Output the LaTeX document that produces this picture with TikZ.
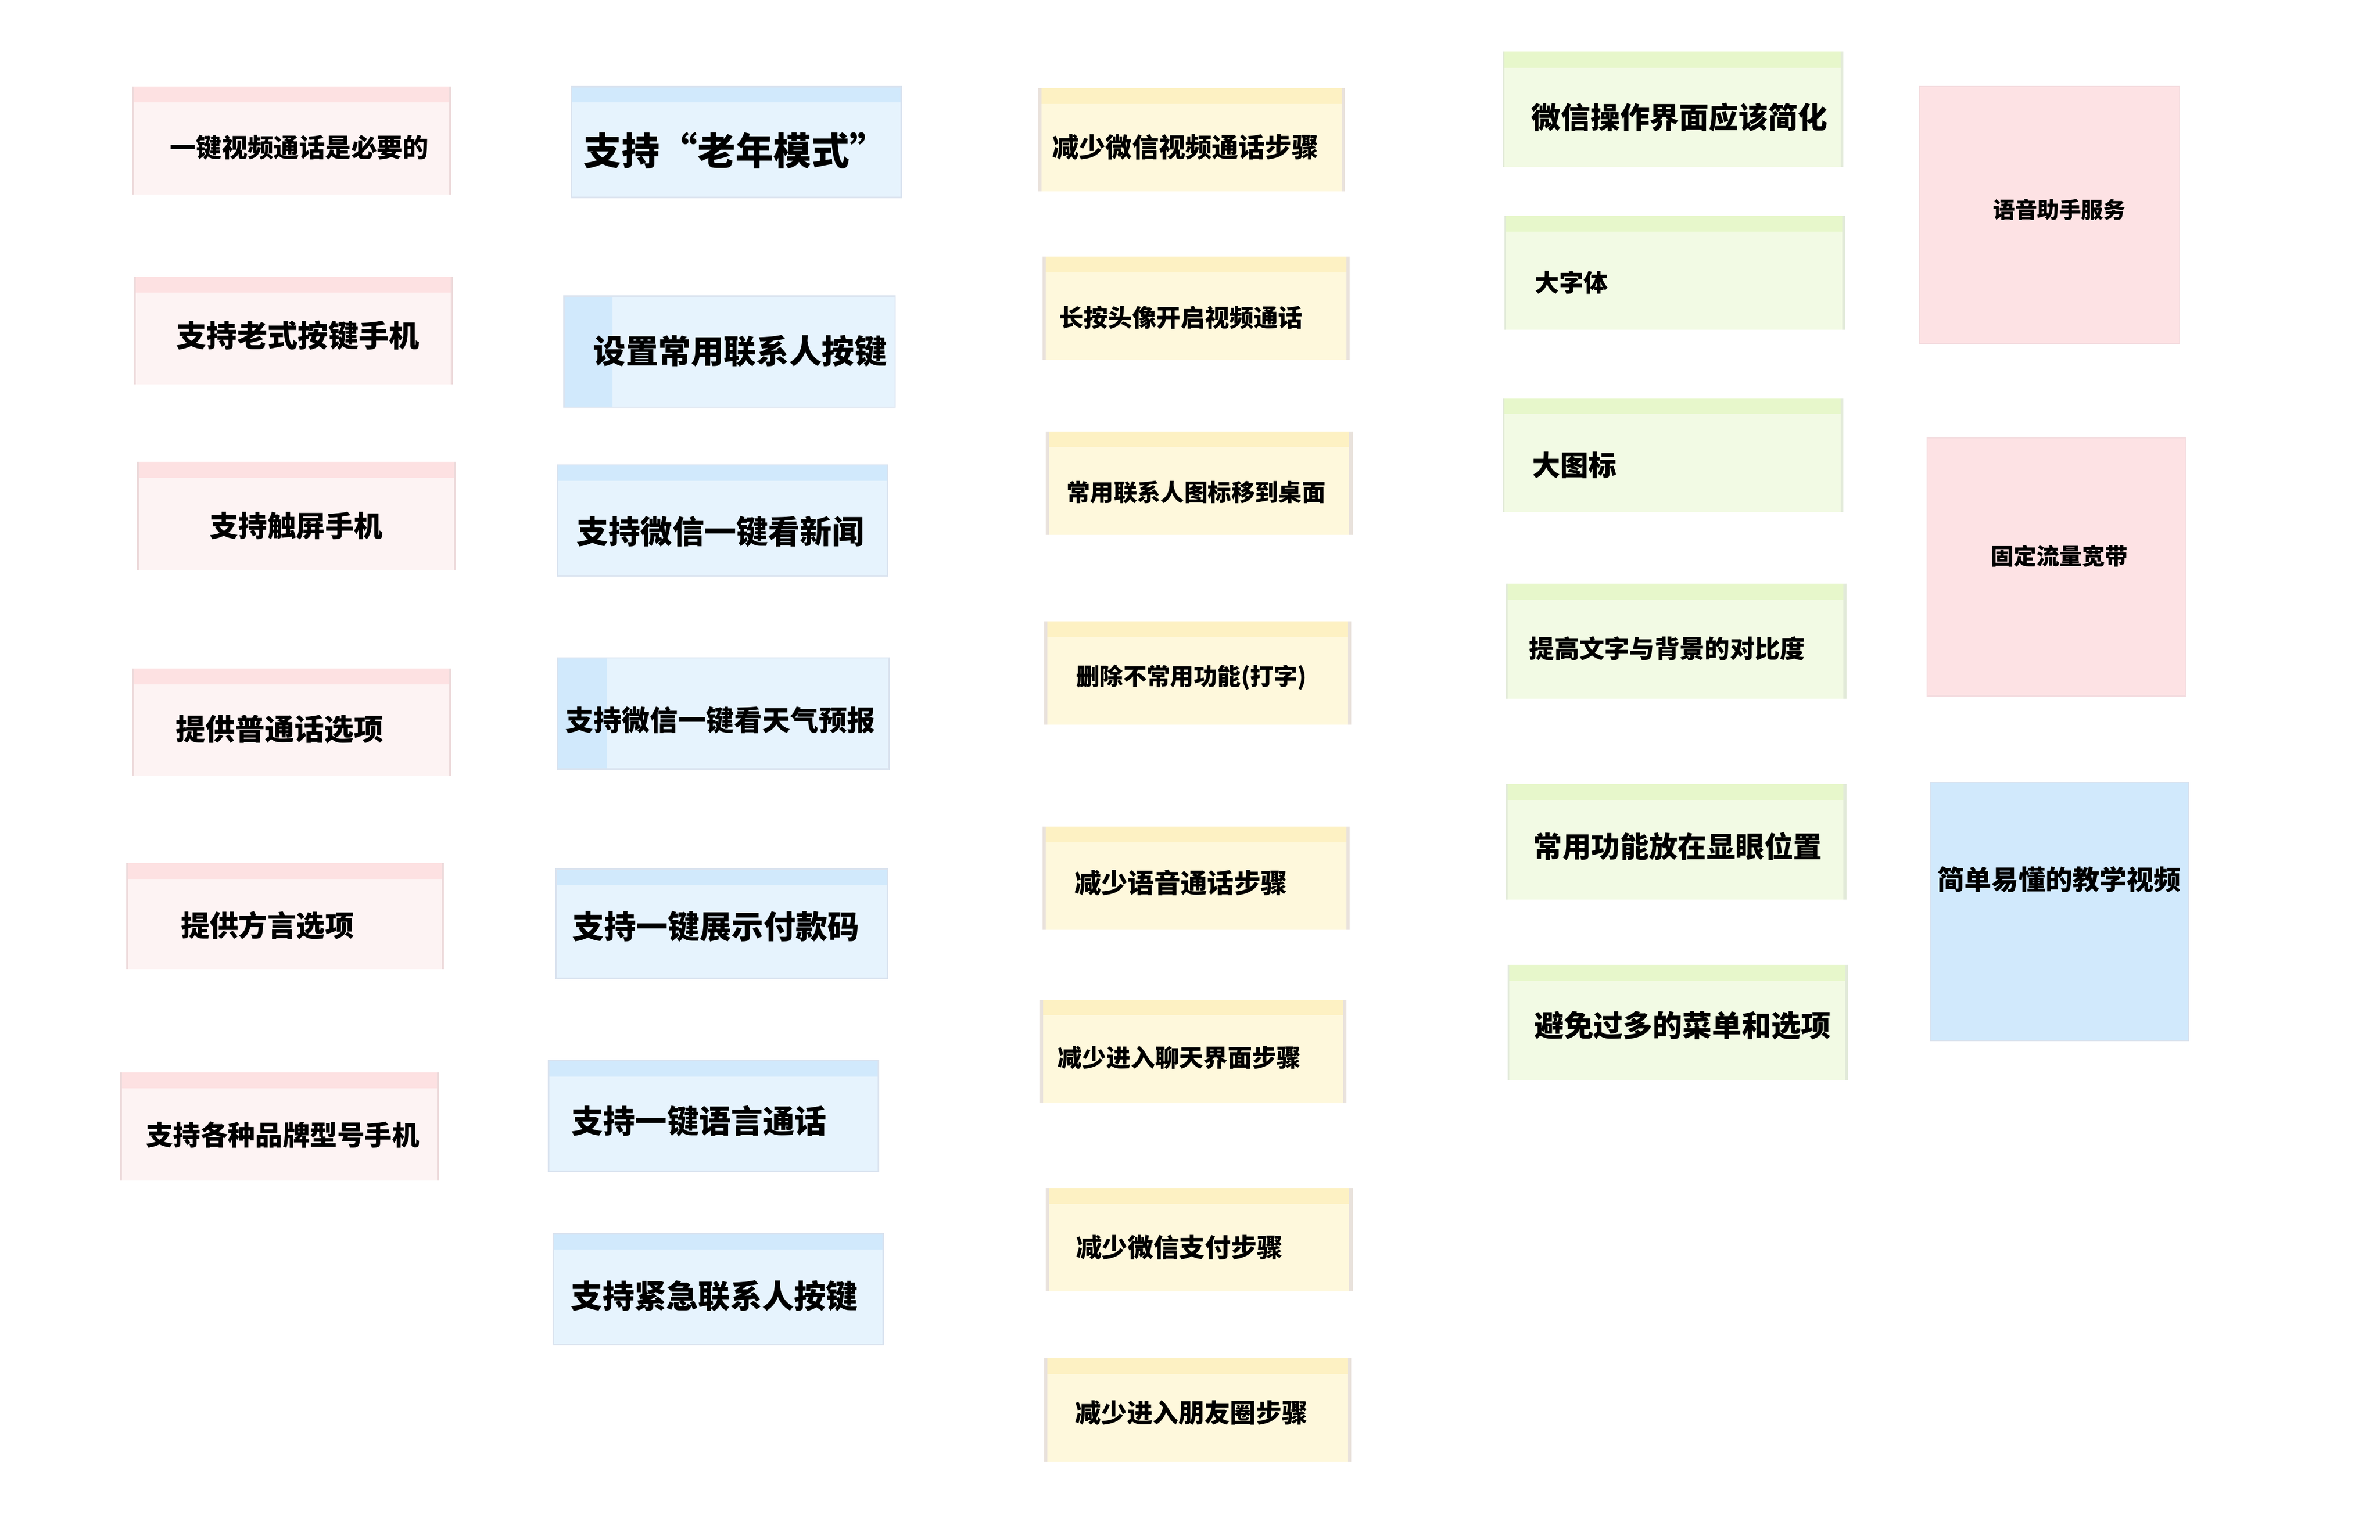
\documentclass[tikz,border=0pt]{standalone}
\usepackage{fontspec}
\setmainfont{Noto Sans CJK SC}
\definecolor{pkbody}{HTML}{FDF3F3}
\definecolor{pkhead}{HTML}{FDE1E2}
\definecolor{pkedge}{HTML}{EDDADB}
\definecolor{blbody}{HTML}{E6F3FD}
\definecolor{blhead}{HTML}{D1E9FC}
\definecolor{bledge}{HTML}{DAE3EF}
\definecolor{ylbody}{HTML}{FEF8DC}
\definecolor{ylhead}{HTML}{FDF1C3}
\definecolor{yledge}{HTML}{E9E2DC}
\definecolor{gnbody}{HTML}{F2FAE4}
\definecolor{gnhead}{HTML}{E7F7CB}
\definecolor{gnedge}{HTML}{E2EAD9}
\definecolor{bigpink}{HTML}{FDE2E4}
\definecolor{bigpinkedge}{HTML}{F4DCDF}
\begin{document}
\begin{tikzpicture}[x=1pt, y=-1pt,
    txt/.style={inner sep=0pt, text=black, font=\bfseries},
    sq/.style={line width=0.8pt}]
  \useasboundingbox (0,0) rectangle (1566,1013.3);
  % pink notes
  \foreach \i/\xa/\ya/\xb/\yb/\tx/\ty/\fs/\lbl in {
      1/87/57/297/128/197/97/17/{一键视频通话是必要的},
      2/88/182/298/253/196/221/20/{支持老式按键手机},
      3/90/304/300/375/195/346/19/{支持触屏手机},
      4/87/440/297/511/184/480/19.5/{提供普通话选项},
      5/83/568/292/638/176/609/19/{提供方言选项},
      6/79/706/289/777/186/747/18/{支持各种品牌型号手机}} {
    \fill[pkbody] (\xa,\ya) rectangle (\xb,\yb);
    \fill[pkhead] (\xa,\ya) rectangle (\xb,\ya+10.5);
    \draw[pkedge, line width=1.4pt] (\xa+0.7,\ya) -- (\xa+0.7,\yb);
    \draw[pkedge, line width=1.4pt] (\xb-0.7,\ya) -- (\xb-0.7,\yb);
    \node[txt, font=\fontsize{\fs}{\fs}\selectfont\bfseries] (pk\i) at (\tx,\ty) {\lbl};
  }
  % blue notes, strip on top
  \foreach \i/\xa/\ya/\xb/\yb/\tx/\ty/\fs/\lbl in {
      1/376/57/593/130/484/99/25/{支持“老年模式”},
      3/367/306/584/379/474/350/21/{支持微信一键看新闻},
      5/366/572/584/644/471/610/21/{支持一键展示付款码},
      6/361/698/578/771/460/738/21/{支持一键语言通话},
      7/364/812/581/885/470/853/21/{支持紧急联系人按键}} {
    \fill[blbody] (\xa,\ya) rectangle (\xb,\yb);
    \fill[blhead] (\xa,\ya) rectangle (\xb,\ya+10.5);
    \draw[bledge, line width=1pt] (\xa,\ya) rectangle (\xb,\yb);
    \node[txt, font=\fontsize{\fs}{\fs}\selectfont\bfseries] (bl\i) at (\tx,\ty) {\lbl};
  }
  % blue notes, strip on the left
  \foreach \i/\xa/\ya/\xb/\yb/\tx/\ty/\fs/\lbl in {
      2/371/195/589/268/487/231/21.5/{设置常用联系人按键},
      4/367/433/585/506/474/474/18.5/{支持微信一键看天气预报}} {
    \fill[blbody] (\xa,\ya) rectangle (\xb,\yb);
    \fill[blhead] (\xa,\ya) rectangle (\xa+32,\yb);
    \draw[bledge, line width=1pt] (\xa,\ya) rectangle (\xb,\yb);
    \node[txt, font=\fontsize{\fs}{\fs}\selectfont\bfseries] (bl\i) at (\tx,\ty) {\lbl};
  }
  % yellow notes
  \foreach \i/\xa/\ya/\xb/\yb/\tx/\ty/\fs/\lbl in {
      1/683/58/885/126/780/97/17.5/{减少微信视频通话步骤},
      2/686/169/888/237/777/209/16/{长按头像开启视频通话},
      3/688/284/890/352/787/324/15.5/{常用联系人图标移到桌面},
      4/687/409/889/477/784/446/15.5/{删除不常用功能(打字)},
      5/686/544/888/612/777/581/17.5/{减少语音通话步骤},
      6/684/658/886/726/776/696/16/{减少进入聊天界面步骤},
      7/688/782/890/850/776/821/17/{减少微信支付步骤},
      8/687/894/889/962/784/930/17/{减少进入朋友圈步骤}} {
    \fill[ylbody] (\xa,\ya) rectangle (\xb,\yb);
    \fill[ylhead] (\xa,\ya) rectangle (\xb,\ya+10.3);
    \draw[yledge, line width=2.2pt] (\xa+1.1,\ya) -- (\xa+1.1,\yb);
    \draw[yledge, line width=2.2pt] (\xb-1.1,\ya) -- (\xb-1.1,\yb);
    \node[txt, font=\fontsize{\fs}{\fs}\selectfont\bfseries] (yl\i) at (\tx,\ty) {\lbl};
  }
  % green notes
  \foreach \i/\xa/\ya/\xb/\yb/\tx/\ty/\fs/\lbl in {
      1/989/34/1213/110/1105/77/19.5/{微信操作界面应该简化},
      2/990/142/1214/217/1034/186/16/{大字体},
      3/989/262/1213/337/1036/306/18.5/{大图标},
      4/991/384/1215/460/1097/427/16.5/{提高文字与背景的对比度},
      5/991/516/1215/592/1104/557/19/{常用功能放在显眼位置},
      6/992/635/1216/711/1107/675/19.5/{避免过多的菜单和选项}} {
    \fill[gnbody] (\xa,\ya) rectangle (\xb,\yb);
    \fill[gnhead] (\xa,\ya) rectangle (\xb,\ya+10.5);
    \draw[gnedge, line width=1pt] (\xa+0.5,\ya) -- (\xa+0.5,\yb);
    \draw[gnedge, line width=2pt] (\xb-1,\ya) -- (\xb-1,\yb);
    \node[txt, font=\fontsize{\fs}{\fs}\selectfont\bfseries] (gn\i) at (\tx,\ty) {\lbl};
  }
  % big squares
  \draw[sq, bigpinkedge, fill=bigpink] (1263,57) rectangle (1434,226);
  \node[txt, font=\fontsize{14.5}{14.5}\selectfont\bfseries] (voice) at (1355,138) {语音助手服务};
  \draw[sq, bigpinkedge, fill=bigpink] (1268,288) rectangle (1438,458);
  \node[txt, font=\fontsize{15}{15}\selectfont\bfseries] (data) at (1355,366) {固定流量宽带};
  \draw[sq, bledge, fill=blhead] (1270,515) rectangle (1440,685);
  \node[txt, font=\fontsize{17.8}{17.8}\selectfont\bfseries] (video) at (1355,579) {简单易懂的教学视频};
\end{tikzpicture}
\end{document}
